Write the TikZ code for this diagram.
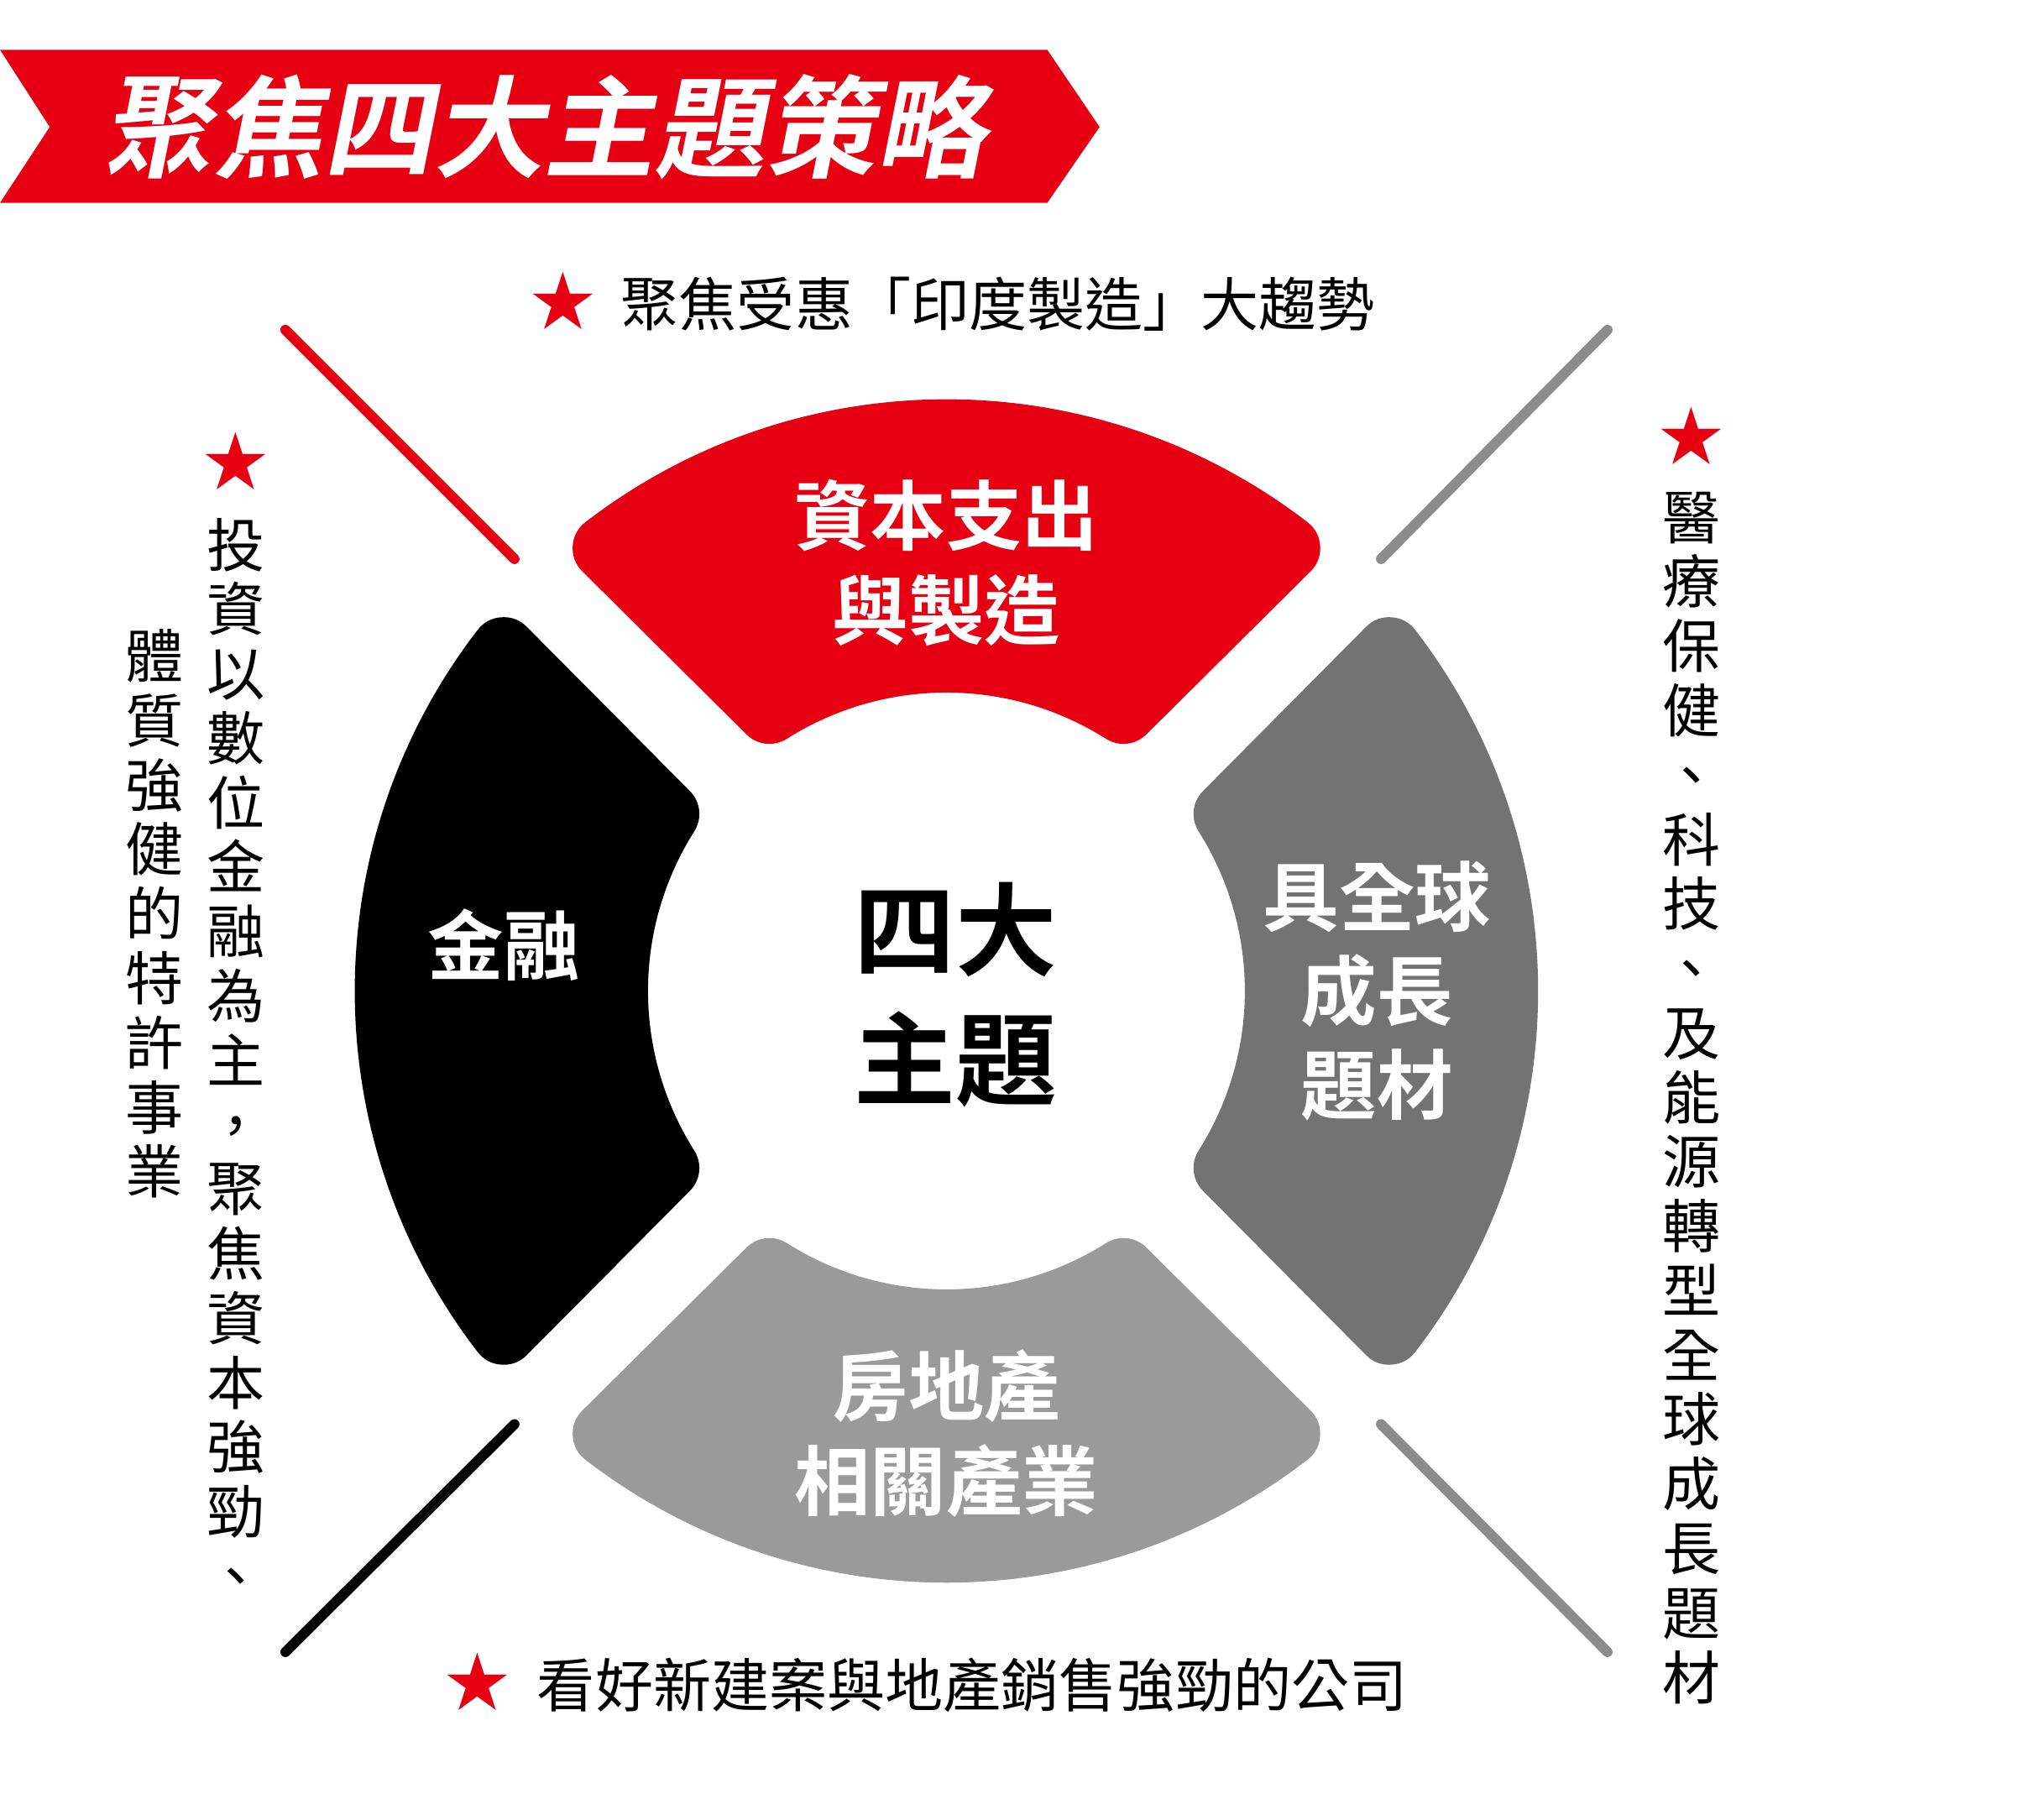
\documentclass[tikz,border=0pt]{standalone}
\usepackage{fontspec}
\usetikzlibrary{calc}
\setmainfont{Noto Sans CJK TC}
\newfontfamily\cjkb{Noto Sans CJK TC Bold}
\definecolor{myred}{HTML}{E60012}
\definecolor{dgray}{HTML}{737373}
\definecolor{lgray}{HTML}{9A9A9A}
\definecolor{lgline}{HTML}{8C8C8C}
\begin{document}
\begin{tikzpicture}[x=0.01cm,y=-0.01cm,
  seglabel/.style={text=white,font=\cjkb\fontsize{16.5}{20.5}\selectfont,align=center},
  side/.style={font=\fontsize{12.6}{14}\selectfont,align=center},
  vert/.style={font=\fontsize{12.6}{14}\selectfont,align=center,inner sep=0pt},
  star/.style={text=myred,font=\fontsize{14}{14}\selectfont}]
\useasboundingbox (0,0) rectangle (1550,1390);
\coordinate (c) at (723,757);
\newcommand\seg[2]{%
 \filldraw[#2,line width=0.5cm,line join=round] ($(c)+(#1-37.6:427)$) arc[start angle=#1-37.6,end angle=#1+37.6,radius=427]
   -- ($(c)+(#1+32.3:253)$) arc[start angle=#1+32.3,end angle=#1-32.3,radius=253] -- cycle;}
\seg{-90}{myred}
\seg{0}{dgray}
\seg{90}{lgray}
\seg{180}{black}
% banner
\fill[myred] (0,38) -- (800,38) -- (840,97) -- (800,155) -- (0,155) -- (38,97) -- cycle;
\node[text=white,font=\cjkb\fontsize{24}{24}\selectfont,xslant=0.2] (title) at (422,97) {聚焦四大主題策略};
% diagonals
\coordinate (a1) at (218,252); \coordinate (a2) at (393,427);
\coordinate (b1) at (1228,252); \coordinate (b2) at (1055,427);
\coordinate (d1) at (218,1262); \coordinate (d2) at (393,1088);
\coordinate (e1) at (1228,1262); \coordinate (e2) at (1055,1088);
\draw[myred,line width=2.2pt,line cap=round] (a1) -- (a2);
\draw[lgline,line width=2.2pt,line cap=round] (b1) -- (b2);
\draw[black,line width=2.2pt,line cap=round] (d1) -- (d2);
\draw[lgline,line width=2.2pt,line cap=round] (e1) -- (e2);
% labels
\node[seglabel] (s1) at (723,430) {資本支出\\與製造};
\node[seglabel] (s2) at (385,722) {金融};
\node[seglabel] (s3) at (1052,757) {具全球\\成長\\題材};
\node[seglabel] (s4) at (723,1095) {房地產\\相關產業};
\node[font=\cjkb\fontsize{22}{28}\selectfont,align=center] (ctr) at (730,760) {四大\\主題};
% top/bottom texts
\node[star] (st1) at (430,230) {★};
\node[side,anchor=west] (t1) at (462,232) {聚焦受惠「印度製造」大趨勢};
\node[star] (st2) at (365,1285) {★};
\node[side,anchor=west] (t2) at (398,1287) {看好新建案與地產銷售強勁的公司};
% verticals
\node[star] (st3) at (1292,333) {★};
\node[vert,anchor=north] (v1) at (1292,375) {醫\\療\\保\\健\\、\\科\\技\\、\\及\\能\\源\\轉\\型\\全\\球\\成\\長\\題\\材};
\node[star] (st4) at (180,352) {★};
\node[vert,anchor=north] (v2) at (180,395) {投\\資\\以\\數\\位\\金\\融\\為\\主\\，\\聚\\焦\\資\\本\\強\\勁\\、};
\node[vert,anchor=north] (v3) at (118,480) {體\\質\\強\\健\\的\\特\\許\\事\\業};
\end{tikzpicture}
\end{document}
